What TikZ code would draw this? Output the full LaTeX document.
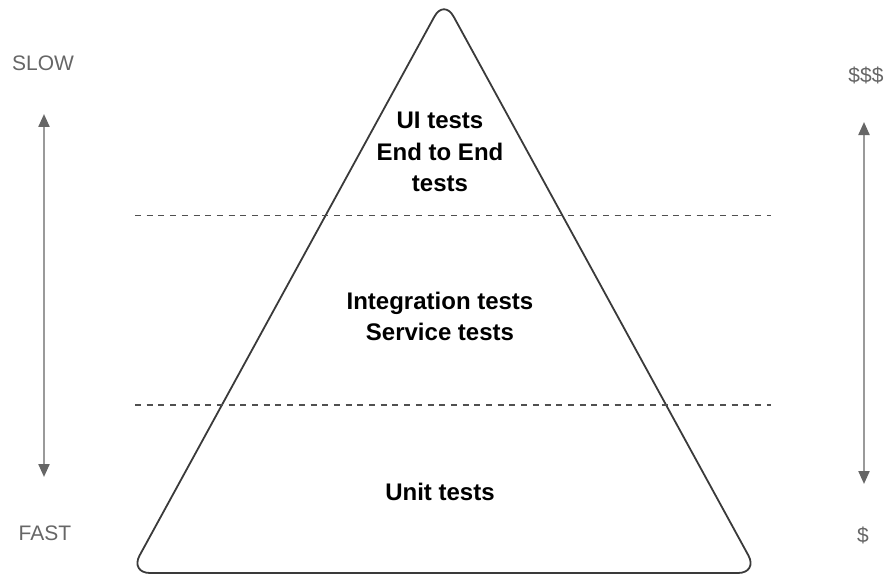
\documentclass[tikz,border=0pt]{standalone}
\usepackage{fontspec}
\setmainfont{Liberation Sans}
\usetikzlibrary{arrows.meta}
\definecolor{labelgray}{HTML}{666666}
\definecolor{shaftgray}{HTML}{9A9A9A}
\definecolor{edgegray}{HTML}{3A3A3A}
\definecolor{dashgray}{HTML}{505050}
\begin{document}
\begin{tikzpicture}[x=1pt,y=-1pt,
    layer/.style={font=\fontsize{24}{31.5}\selectfont\bfseries,align=center,text=black,inner sep=0pt},
    side/.style={font=\fontsize{21}{24}\selectfont,text=labelgray,inner sep=0pt},
    spanarrow/.style={line width=2.2pt,shaftgray,{Triangle[length=13pt,width=11pt,color=labelgray]}-{Triangle[length=13pt,width=11pt,color=labelgray]}},
    split/.style={line width=1.3pt,dashgray,dash pattern=on 6pt off 5.7pt}]
    \useasboundingbox (0,0) rectangle (888,575);
    \draw[line width=1.8pt,edgegray,rounded corners=20pt](444,573)--(758,573)--(444,-1)--(130,573)--cycle;
    \coordinate (top split l) at (135,215.5);
    \coordinate (top split r) at (771,215.5);
    \coordinate (low split l) at (135,405);
    \coordinate (low split r) at (771,405);
    \draw[split](top split l)--(top split r);
    \draw[split](low split l)--(low split r);
    \node[layer] (ui) at (440,152) {UI tests\\End to End\\tests};
    \node[layer] (integration) at (440,316.5) {Integration tests\\Service tests};
    \node[layer] (unit) at (440,492) {Unit tests};
    \node[side] (slow) at (43,63) {SLOW};
    \node[side] (fast) at (45,533) {FAST};
    \node[side] (costly) at (866,75) {\$\$\$};
    \node[side] (cheap) at (863,535) {\$};
    \coordinate (speed top) at (44,114);
    \coordinate (speed bottom) at (44,477);
    \coordinate (cost top) at (864,122);
    \coordinate (cost bottom) at (864,484);
    \draw[spanarrow](speed top)--(speed bottom);
    \draw[spanarrow](cost top)--(cost bottom);
  \end{tikzpicture}
\end{document}
